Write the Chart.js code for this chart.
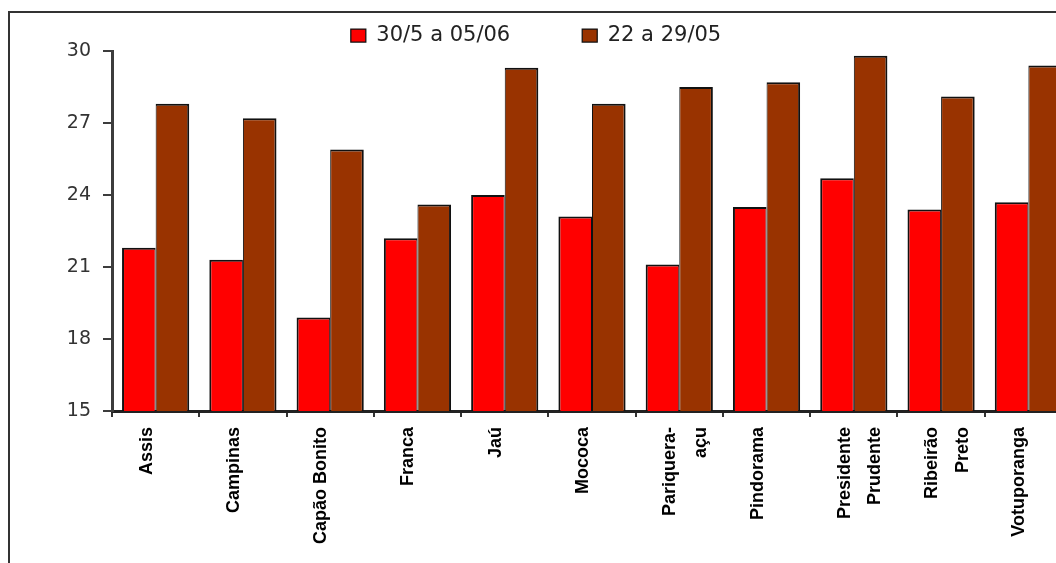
<!DOCTYPE html>
<html>
<head>
<meta charset="utf-8">
<script src="https://cdn.jsdelivr.net/npm/chart.js@4"></script>
<style>
  html, body { margin: 0; padding: 0; background: #fff; overflow: hidden; }
  #wrap { position: absolute; left: 0; top: 0; width: 1080px; height: 563px; }
  #frame { position: absolute; left: 8px; top: 11px; width: 1200px; height: 700px;
           border: 2px solid #333; pointer-events: none; }
</style>
</head>
<body>
<div id="wrap"><canvas id="temps"></canvas></div>
<div id="frame"></div>
<script>
// cities (multi-line labels as arrays)
var cities = ['Assis', 'Campinas', 'Capão Bonito', 'Franca', 'Jaú', 'Mococa',
  ['Pariquera-', 'açu'], 'Pindorama', ['Presidente', 'Prudente'], ['Ribeirão', 'Preto'], 'Votuporanga'];

// weekly values
var week3005 = [21.8, 21.3, 18.9, 22.2, 24.0, 23.1, 21.1, 23.5, 24.7, 23.4, 23.7];
var week2205 = [27.8, 27.2, 25.9, 23.6, 29.3, 27.8, 28.5, 28.7, 29.8, 28.1, 29.4];

var yMin = 15, yMax = 30, yStep = 3;

function drawChart() {
    var ctx = document.getElementById('temps').getContext('2d');
    var chart = new Chart(ctx, {
        type: 'bar',
        data: {
            labels: cities,
            datasets: [{
                label: '30/5 a 05/06',
                data: week3005,
                backgroundColor: '#ff0000',
                borderColor: '#111',
                borderWidth: { top: 2, left: 2, right: 1, bottom: 0 },
                borderSkipped: false,
                categoryPercentage: 0.77,
                barPercentage: 1
            }, {
                label: '22 a 29/05',
                data: week2205,
                backgroundColor: '#993300',
                borderColor: '#111',
                borderWidth: { top: 2, left: 1, right: 2, bottom: 0 },
                borderSkipped: false,
                categoryPercentage: 0.77,
                barPercentage: 1
            }]
        },
        options: {
            responsive: true,
            maintainAspectRatio: false,
            animation: false,
            layout: { padding: { top: -47, left: 0, right: 8, bottom: 0 } },
            plugins: {
                tooltip: { enabled: false },
                legend: {
                    position: 'top',
                    maxHeight: 98,
                    labels: {
                        boxWidth: 15,
                        boxHeight: 13,
                        padding: 72,
                        color: '#222',
                        font: { family: 'DejaVu Sans', size: 21 }
                    }
                }
            },
            scales: {
                x: {
                    ticks: {
                        minRotation: 90,
                        maxRotation: 90,
                        autoSkip: false,
                        padding: 10,
                        labelOffset: -9,
                        color: '#000',
                        font: { family: "'Liberation Sans', Arial, sans-serif", size: 18, weight: 'bold', lineHeight: 1.7 }
                    },
                    grid: { drawOnChartArea: false, tickLength: 6, color: '#333', lineWidth: 2 },
                    border: { color: '#222', width: 3 },
                    afterFit: function (s) { s.height = 152; }
                },
                y: {
                    min: yMin,
                    max: yMax,
                    ticks: {
                        stepSize: yStep,
                        padding: 12,
                        color: '#333',
                        font: { family: 'DejaVu Sans', size: 19 }
                    },
                    grid: { drawOnChartArea: false, tickLength: 9, color: '#3c3c3c', lineWidth: 2 },
                    border: { color: '#3c3c3c', width: 3 },
                    afterFit: function (s) { s.width = 112; }
                }
            }
        }
    });
}
drawChart();
</script>
</body>
</html>
